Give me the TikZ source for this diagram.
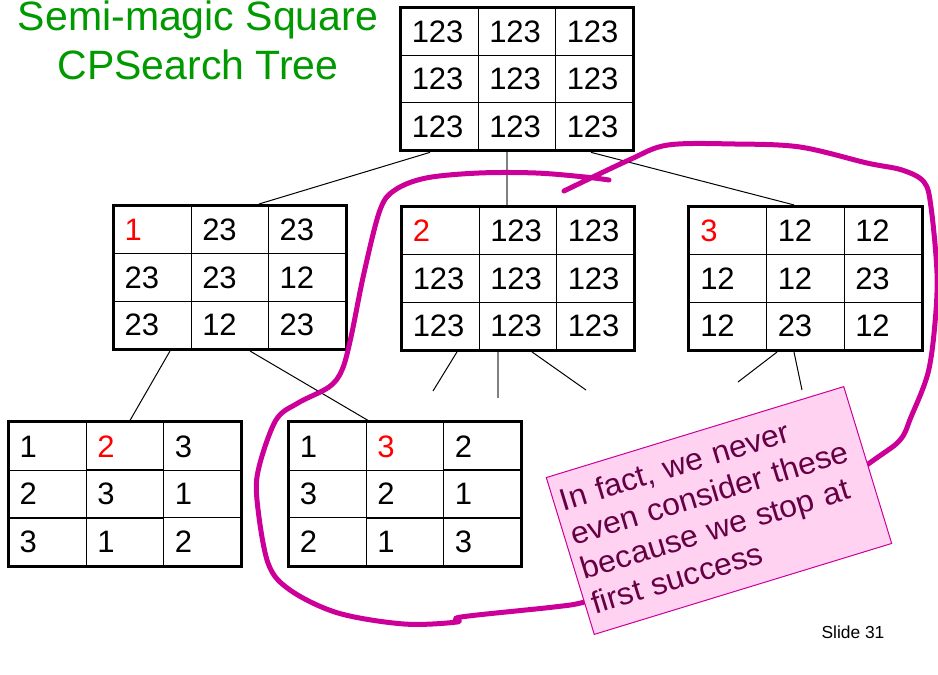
\documentclass[tikz,border=0pt]{standalone}
\usepackage{fontspec}
\setmainfont{Liberation Sans}
\newfontfamily\notefont[FakeStretch=1.03]{Liberation Sans}
\usepackage{xcolor}
\usetikzlibrary{matrix}
\definecolor{titlegreen}{RGB}{0,153,0}
\definecolor{loopmag}{RGB}{204,0,153}
\definecolor{notefill}{RGB}{255,210,242}
\definecolor{notetext}{RGB}{102,0,68}

\begin{document}
\begin{tikzpicture}[x=0.5pt,y=-0.5pt]
\tikzstyle{cell}=[draw,line width=0.6pt,minimum width=38.75pt,minimum height=23.75pt,text width=27.75pt,inner xsep=5.5pt,inner ysep=0pt,outer sep=0pt,align=left,font=\fontsize{15.5}{18}\selectfont]
\tikzstyle{sq}=[matrix of nodes,draw,line width=1.5pt,inner sep=0pt,row sep=-0.6pt,column sep=-0.6pt,nodes={cell}]
\tikzstyle{pick}=[text=red]
\tikzstyle{edge}=[line width=0.5pt]
\tikzstyle{gedge}=[line width=0.75pt,gray]
\tikzstyle{note}=[draw=loopmag,line width=0.5pt,fill=notefill,text=notetext,minimum width=155.5pt,minimum height=82pt,text width=148.5pt,text depth=56pt,inner xsep=3.5pt,inner ysep=0pt,align=left,font=\notefont\fontsize{15.5}{18}\selectfont,execute at begin node={\setlength{\baselineskip}{18pt}}]
\useasboundingbox (0,0) rectangle (938,675);
\node[text=titlegreen,align=center,anchor=north,inner sep=0pt,font=\fontsize{20.5}{24.5}\selectfont] (title) at (198,0) {Semi-magic Square\\CPSearch Tree};
\matrix[sq] (root) at (517,79) {123 & 123 & 123\\ 123 & 123 & 123\\ 123 & 123 & 123\\};
\matrix[sq] (c1) at (230,277.5) {|[pick]| 1 & 23 & 23\\ 23 & 23 & 12\\ 23 & 12 & 23\\};
\matrix[sq] (c2) at (518,278.5) {|[pick]| 2 & 123 & 123\\ 123 & 123 & 123\\ 123 & 123 & 123\\};
\matrix[sq] (c3) at (805.5,278.5) {|[pick]| 3 & 12 & 12\\ 12 & 12 & 23\\ 12 & 23 & 12\\};
\matrix[sq] (g1) at (125,494) {1 & |[pick]| 2 & 3\\ 2 & 3 & 1\\ 3 & 1 & 2\\};
\matrix[sq] (g2) at (405,494) {1 & |[pick]| 3 & 2\\ 3 & 2 & 1\\ 2 & 1 & 3\\};
\coordinate (m1) at (433,391);
\coordinate (m2) at (498,398);
\coordinate (m3) at (586,390);
\coordinate (r1) at (738,382);
\coordinate (r2) at (802,390);
\draw[edge] ([xshift=-43.5pt]root.south) -- ([xshift=14.5pt]c1.north);
\draw[gedge] ([xshift=-5pt]root.south) -- ([xshift=-5.5pt]c2.north);
\draw[edge] ([xshift=37pt]root.south) -- ([xshift=-5.75pt]c3.north);
\draw[edge] ([xshift=-30pt]c1.south) -- ([xshift=2.5pt]g1.north);
\draw[edge] ([xshift=10pt]c1.south) -- ([xshift=-18.5pt]g2.north);
\draw[edge] ([xshift=-30.5pt]c2.south) -- (m1);
\draw[gedge] ([xshift=-10pt]c2.south) -- (m2);
\draw[edge] ([xshift=7pt]c2.south) -- (m3);
\draw[edge] ([xshift=-14.25pt]c3.south) -- (r1);
\draw[edge] ([xshift=-5.75pt]c3.south) -- (r2);
\draw[loopmag,line width=2.5pt,line cap=round,line join=round] plot[smooth,tension=0.55] coordinates {(564,191) (629,160) (668,145) (735,144) (800,147) (867,163) (902,170) (924,182) (931,207) (937,273) (935,323) (928,373) (911,417) (900,440) (871,462) (760,540) (650,585) (585,602) (554,607) (461,617) (457,622) (404,624) (338,613) (290,590) (268,563) (257,500) (259,467) (276,420) (298,403) (329,387) (342,370) (351,337) (364,273) (380,210) (395,190) (426,178) (479,173) (536,173) (585,177) (609,180)};
\node[note,rotate=17] (fact) at (719,510.5) {In fact, we never\\even consider these\\because we stop at\\first success};
\node[font=\fontsize{8.7}{10}\selectfont] (slide) at (853,632) {Slide 31};
\end{tikzpicture}
\end{document}
